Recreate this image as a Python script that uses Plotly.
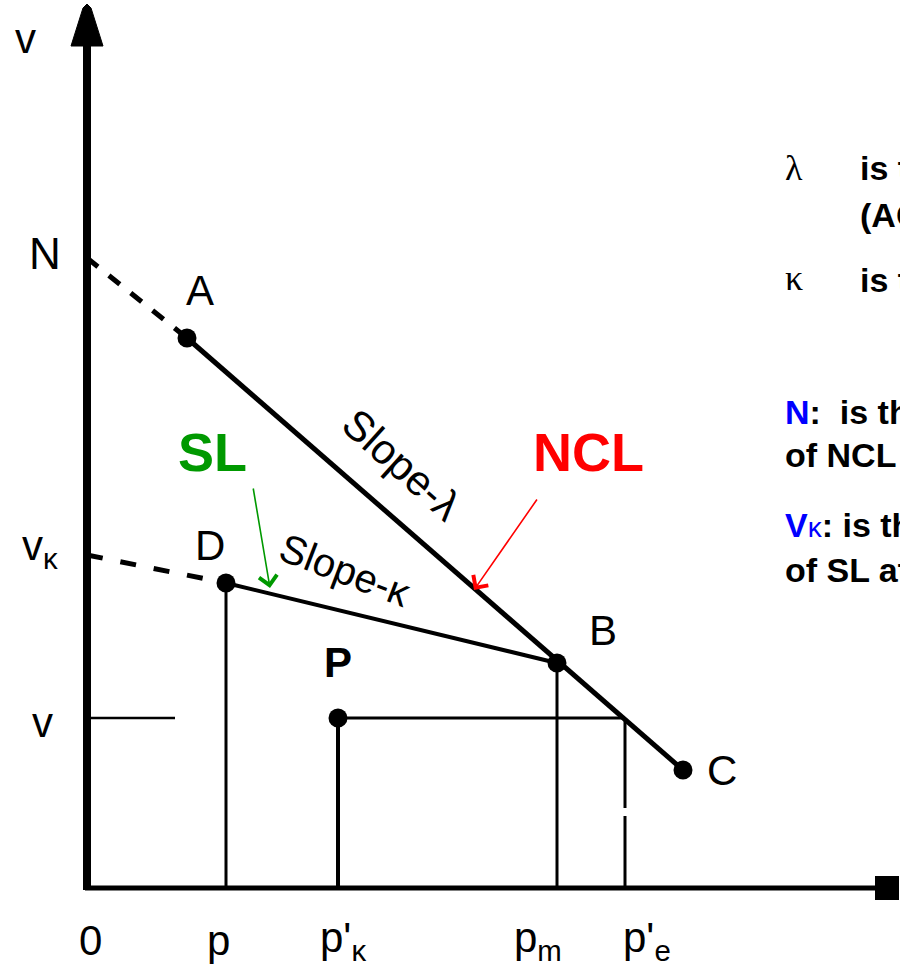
import plotly.graph_objects as go

# Diagram points (specific volume v vs mean effective stress p'), in drawing units
ncl_start = (0, 630)      # N on the v axis
point_A = (100, 550)
point_B = (470, 225)
point_C = (596, 118)
sl_start = (0, 333)       # v_kappa on the v axis
point_D = (139, 305)
point_P = (251, 170)
point_E = (538, 170)      # NCL at the current v

tick_x = [3, 131, 256, 451, 560]
tick_text = ["0", "p", "p'<sub>κ</sub>", "p<sub>m</sub>", "p'<sub>e</sub>"]

X_MAX = 800
Y_MAX = 848

BLACK = "#000000"
GREEN = "#009900"
RED = "#ff0000"
BLUE = "#0000ff"
SANS = "Liberation Sans, Arial, sans-serif"
SERIF = "Liberation Serif, Times New Roman, serif"

fig = go.Figure()


def seg(p0, p1, width, dash="solid", color=BLACK):
    fig.add_trace(go.Scatter(
        x=[p0[0], p1[0]], y=[p0[1], p1[1]], mode="lines",
        line=dict(color=color, width=width, dash=dash),
        hoverinfo="skip", showlegend=False))


# axes
seg((0, -2), (0, Y_MAX), 8)
seg((-2, 0), (X_MAX, 0), 5)
fig.add_trace(go.Scatter(
    x=[-16, -4, 0, 4, 16, -16], y=[Y_MAX - 6, Y_MAX + 32, Y_MAX + 36, Y_MAX + 32, Y_MAX - 6, Y_MAX - 6],
    mode="lines", fill="toself", fillcolor=BLACK, line=dict(color=BLACK, width=1),
    hoverinfo="skip", showlegend=False))
fig.add_trace(go.Scatter(
    x=[X_MAX], y=[0], mode="markers",
    marker=dict(symbol="square", size=24, color=BLACK),
    hoverinfo="skip", showlegend=False))

# NCL and SL
seg(ncl_start, point_A, 5, dash="14px,14px")
seg(point_A, point_C, 5)
seg(sl_start, point_D, 5, dash="16px,18px")
seg(point_D, point_B, 4)

# projections
seg(point_D, (point_D[0], 0), 3)
seg(point_P, (point_P[0], 0), 4)
seg(point_B, (point_B[0], 0), 3)
seg(point_E, (point_E[0], 80), 3)
seg((point_E[0], 72), (point_E[0], 0), 3)
seg((0, point_P[1]), (88, point_P[1]), 2.5)
seg(point_P, point_E, 3)

# state points
pts = [point_A, point_D, point_B, point_C, point_P]
fig.add_trace(go.Scatter(
    x=[p[0] for p in pts], y=[p[1] for p in pts], mode="markers",
    marker=dict(symbol="circle", size=19, color=BLACK),
    hoverinfo="skip", showlegend=False))

ann = []


def label(x, y, text, size=40, color=BLACK, family=SANS, angle=0, xanchor="center"):
    ann.append(dict(x=x, y=y, xref="x", yref="y", text=text, showarrow=False,
                    font=dict(size=size, color=color, family=family),
                    textangle=angle, xanchor=xanchor, yanchor="middle"))


label(-62, 850, "v", size=42)
label(-42, 635, "N", size=44)
label(113, 598, "A", size=42)
label(-47, 340, "v<sub>κ</sub>", size=42)
label(123, 343, "D", size=42)
label(516, 258, "B", size=42)
label(635, 118, "C", size=42)
label(251, 226, "<b>P</b>", size=42)
label(-45, 166, "v", size=42)
for tx, tt in zip(tick_x, tick_text):
    label(tx, -52, tt, size=42)

label(315, 424, "Slope-λ", size=42, angle=42)
label(258, 318, "Slope-κ", size=40, angle=21)

label(125, 436, "<b>SL</b>", size=54, color=GREEN)
label(501, 436, "<b>NCL</b>", size=54, color=RED)

# pointers to the lines
ann.append(dict(x=183, y=300, ax=166, ay=401, xref="x", yref="y", axref="x", ayref="y",
                text="", showarrow=True, arrowhead=4, arrowsize=2.2, arrowwidth=1.6,
                arrowcolor=GREEN))
ann.append(dict(x=387, y=298, ax=451, ay=390, xref="x", yref="y", axref="x", ayref="y",
                text="", showarrow=True, arrowhead=4, arrowsize=2.2, arrowwidth=1.6,
                arrowcolor=RED))

# notes
label(707, 720, "λ", size=36, family=SERIF)
label(707, 610, "κ", size=36, family=SERIF)
label(771, 720, "<b>is the slope of the NCL</b>", size=34, xanchor="left")
label(771, 673, "<b>(AC)</b>", size=34, xanchor="left")
label(771, 608, "<b>is the slope of the SL</b>", size=34, xanchor="left")
label(696, 476, "<b><span style='color:%s'>N</span>:\u00a0 is the specific volume</b>" % BLUE,
      size=34, xanchor="left")
label(696, 433, "<b>of NCL at p'=1 kPa</b>", size=34, xanchor="left")
label(696, 363, "<b><span style='color:%s'>V</span></b><span style='color:%s;font-size:28px'>κ</span>"
      "<b>: is the specific volume</b>" % (BLUE, BLUE), size=34, xanchor="left")
label(696, 318, "<b>of SL at p'=1 kPa</b>", size=34, xanchor="left")

fig.update_layout(
    width=900, height=970,
    margin=dict(l=0, r=0, t=0, b=0),
    paper_bgcolor="white", plot_bgcolor="white",
    xaxis=dict(range=[-87, 813], visible=False, fixedrange=True),
    yaxis=dict(range=[-82, 888], visible=False, fixedrange=True),
    annotations=ann,
    showlegend=False,
)

fig.write_html("out.html")
